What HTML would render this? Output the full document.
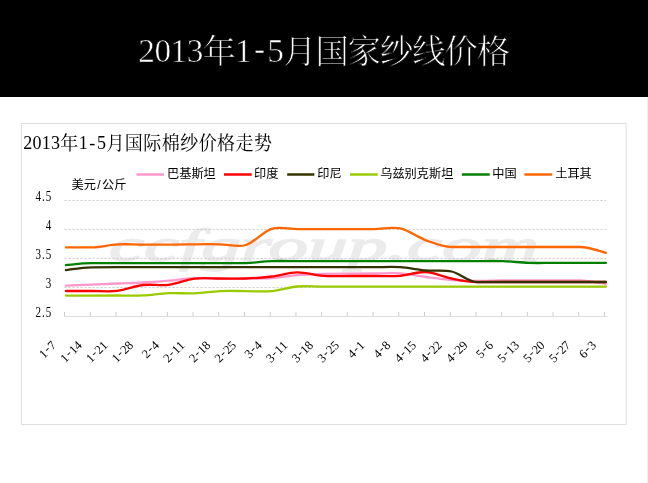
<!DOCTYPE html>
<html><head><meta charset="utf-8">
<style>
html,body{margin:0;padding:0;background:#fff;}
body{width:648px;height:483px;overflow:hidden;position:relative;}
svg{display:block;position:absolute;left:0;top:0;}
.ser{font-family:"Liberation Serif","Noto Serif CJK SC",serif;}
.sans{font-family:"Liberation Sans","Noto Sans CJK SC",sans-serif;}
</style></head><body>
<svg width="648" height="483" viewBox="0 0 648 483">
<rect x="0" y="0" width="648" height="97" fill="#000"/>
<line x1="647.5" y1="97" x2="647.5" y2="483" stroke="#efefef" stroke-width="1"/>
<text class="ser" x="138.34 154.46 170.59 186.71 202.57 235.09 253.99 267.34 283.20 315.45 347.70 379.95 412.20 444.45 476.70" y="62.40 62.40 62.40 62.40 63.30 62.40 59.90 62.40 63.30 63.30 63.30 63.30 63.30 63.30 63.30" fill="#fff" font-size="33.3" stroke="#000" stroke-width="0.6">2013年1-5月国家纱线价格</text>

<rect x="21.5" y="123.5" width="604.6" height="301" fill="#fff" stroke="#dedede" stroke-width="1"/>
<text class="ser" transform="translate(23.20 0) scale(0.92 1)" x="0.11 10.14 20.17 30.20 40.34 60.28 71.94 80.33 90.47 110.53 130.58 150.63 170.69 190.74 210.80 230.85 250.91" y="149.50 149.50 149.50 149.50 150.30 149.50 149.50 149.50 150.30 150.30 150.30 150.30 150.30 150.30 150.30 150.30 150.30" fill="#000" font-size="19.6">2013年1-5月国际棉纱价格走势</text>

<text class="sans" x="71.50 83.70 97.25 102.00 114.20" y="188.8" fill="#000" font-size="12.2">美元/公斤</text>
<g class="sans" font-size="12.2" fill="#000"><line x1="136.5" y1="174.5" x2="164" y2="174.5" stroke="#ff99cc" stroke-width="2.5"/><text x="167.00 179.20 191.40 203.60" y="178">巴基斯坦</text><line x1="224" y1="174.5" x2="251.7" y2="174.5" stroke="#ff0000" stroke-width="2.5"/><text x="254.00 266.20" y="178">印度</text><line x1="287.2" y1="174.5" x2="314.3" y2="174.5" stroke="#333300" stroke-width="2.5"/><text x="317.20 329.40" y="178">印尼</text><line x1="350" y1="174.5" x2="377.7" y2="174.5" stroke="#99cc00" stroke-width="2.5"/><text x="380.20 392.40 404.60 416.80 429.00 441.20" y="178">乌兹别克斯坦</text><line x1="461.9" y1="174.5" x2="489.7" y2="174.5" stroke="#008000" stroke-width="2.5"/><text x="492.20 504.40" y="178">中国</text><line x1="524.4" y1="174.5" x2="552.2" y2="174.5" stroke="#ff6600" stroke-width="2.5"/><text x="555.20 567.40 579.60" y="178">土耳其</text></g>
<text transform="translate(109 261) scale(1.72 1)" x="0" y="0" font-family="Liberation Serif" font-style="italic" font-size="46" fill="#ebebeb" stroke="#ebebeb" stroke-width="1.4">ccfgroup.com</text>
<g stroke="#cccccc" stroke-width="1" stroke-dasharray="2 2"><line x1="64.5" y1="200.5" x2="606" y2="200.5"/><line x1="64.5" y1="229.5" x2="606" y2="229.5"/><line x1="64.5" y1="258.5" x2="606" y2="258.5"/><line x1="64.5" y1="287.5" x2="606" y2="287.5"/></g>
<g stroke="#dddddd" stroke-width="1"><line x1="64" y1="316.5" x2="607.5" y2="316.5"/><line x1="64.50" y1="312" x2="64.50" y2="316" stroke="#cdcdcd"/><line x1="90.21" y1="312" x2="90.21" y2="316" stroke="#cdcdcd"/><line x1="115.93" y1="312" x2="115.93" y2="316" stroke="#cdcdcd"/><line x1="141.64" y1="312" x2="141.64" y2="316" stroke="#cdcdcd"/><line x1="167.36" y1="312" x2="167.36" y2="316" stroke="#cdcdcd"/><line x1="193.07" y1="312" x2="193.07" y2="316" stroke="#cdcdcd"/><line x1="218.78" y1="312" x2="218.78" y2="316" stroke="#cdcdcd"/><line x1="244.50" y1="312" x2="244.50" y2="316" stroke="#cdcdcd"/><line x1="270.21" y1="312" x2="270.21" y2="316" stroke="#cdcdcd"/><line x1="295.93" y1="312" x2="295.93" y2="316" stroke="#cdcdcd"/><line x1="321.64" y1="312" x2="321.64" y2="316" stroke="#cdcdcd"/><line x1="347.35" y1="312" x2="347.35" y2="316" stroke="#cdcdcd"/><line x1="373.07" y1="312" x2="373.07" y2="316" stroke="#cdcdcd"/><line x1="398.78" y1="312" x2="398.78" y2="316" stroke="#cdcdcd"/><line x1="424.50" y1="312" x2="424.50" y2="316" stroke="#cdcdcd"/><line x1="450.21" y1="312" x2="450.21" y2="316" stroke="#cdcdcd"/><line x1="475.92" y1="312" x2="475.92" y2="316" stroke="#cdcdcd"/><line x1="501.64" y1="312" x2="501.64" y2="316" stroke="#cdcdcd"/><line x1="527.35" y1="312" x2="527.35" y2="316" stroke="#cdcdcd"/><line x1="553.07" y1="312" x2="553.07" y2="316" stroke="#cdcdcd"/><line x1="578.78" y1="312" x2="578.78" y2="316" stroke="#cdcdcd"/><line x1="604.49" y1="312" x2="604.49" y2="316" stroke="#cdcdcd"/></g>
<g fill="none" stroke-width="2.3" stroke-linejoin="round" stroke-linecap="round"><path d="M65.9 285.6 C70.2 285.5 83.0 285.1 91.6 284.7 C100.2 284.3 108.8 283.9 117.3 283.5 C125.9 283.1 134.5 283.0 143.0 282.5 C151.6 282.0 160.2 281.3 168.8 280.6 C177.3 279.9 185.9 278.5 194.5 278.2 C203.0 277.9 211.6 278.5 220.2 278.6 C228.8 278.7 237.3 278.7 245.9 278.6 C254.5 278.5 263.0 278.8 271.6 278.2 C280.2 277.6 288.8 275.9 297.3 275.2 C305.9 274.5 314.5 274.3 323.0 274.0 C331.6 273.7 340.2 273.7 348.8 273.6 C357.3 273.5 365.9 273.6 374.5 273.5 C383.0 273.4 391.6 272.7 400.2 273.3 C408.8 273.9 417.3 275.9 425.9 277.0 C434.5 278.1 443.0 279.3 451.6 280.0 C460.2 280.7 468.8 280.9 477.3 281.0 C485.9 281.1 494.5 280.6 503.0 280.5 C511.6 280.4 520.2 280.5 528.8 280.5 C537.3 280.5 545.9 280.5 554.5 280.5 C563.0 280.5 571.6 280.5 580.2 280.5 C588.8 280.5 601.6 283.4 605.9 284.0" stroke="#ff99cc"/>
<path d="M65.9 291.0 C70.2 291.0 83.0 291.0 91.6 291.0 C100.2 291.0 108.8 291.9 117.3 290.9 C125.9 289.9 134.5 286.0 143.0 285.0 C151.6 284.0 160.2 285.9 168.8 284.8 C177.3 283.7 185.9 279.7 194.5 278.6 C203.0 277.6 211.6 278.5 220.2 278.5 C228.8 278.5 237.3 278.8 245.9 278.5 C254.5 278.2 263.0 277.5 271.6 276.5 C280.2 275.5 288.8 272.4 297.3 272.3 C305.9 272.2 314.5 275.2 323.0 275.8 C331.6 276.4 340.2 276.0 348.8 276.0 C357.3 276.0 365.9 276.0 374.5 276.0 C383.0 276.0 391.6 276.5 400.2 275.8 C408.8 275.1 417.3 271.6 425.9 272.0 C434.5 272.4 443.0 276.8 451.6 278.5 C460.2 280.2 468.8 282.0 477.3 282.0 C485.9 282.0 494.5 282.0 503.0 282.0 C511.6 282.0 520.2 282.0 528.8 282.0 C537.3 282.0 545.9 282.0 554.5 282.0 C563.0 282.0 571.6 282.0 580.2 282.0 C588.8 282.0 601.6 282.0 605.9 282.0" stroke="#ff0000"/>
<path d="M65.9 270.1 C70.2 269.6 83.0 267.3 91.6 267.3 C100.2 267.3 108.8 267.2 117.3 267.2 C125.9 267.2 134.5 267.2 143.0 267.2 C151.6 267.2 160.2 267.2 168.8 267.2 C177.3 267.2 185.9 267.2 194.5 267.2 C203.0 267.2 211.6 267.2 220.2 267.2 C228.8 267.2 237.3 267.2 245.9 267.2 C254.5 267.2 263.0 267.2 271.6 267.2 C280.2 267.2 288.8 267.2 297.3 267.2 C305.9 267.2 314.5 267.2 323.0 267.2 C331.6 267.2 340.2 267.2 348.8 267.2 C357.3 267.2 365.9 267.2 374.5 267.2 C383.0 267.2 391.6 266.6 400.2 267.2 C408.8 267.8 417.3 269.8 425.9 270.5 C434.5 271.2 443.0 269.6 451.6 271.5 C460.2 273.4 468.8 282.2 477.3 282.2 C485.9 282.2 494.5 282.0 503.0 282.0 C511.6 282.0 520.2 282.0 528.8 282.0 C537.3 282.0 545.9 282.0 554.5 282.0 C563.0 282.0 571.6 282.0 580.2 282.0 C588.8 282.0 601.6 282.0 605.9 282.0" stroke="#333300"/>
<path d="M65.9 295.6 C70.2 295.6 83.0 295.6 91.6 295.6 C100.2 295.6 108.8 295.5 117.3 295.5 C125.9 295.5 134.5 295.8 143.0 295.4 C151.6 295.0 160.2 293.5 168.8 293.2 C177.3 292.9 185.9 293.6 194.5 293.3 C203.0 293.0 211.6 291.5 220.2 291.1 C228.8 290.7 237.3 291.1 245.9 291.1 C254.5 291.1 263.0 291.9 271.6 291.1 C280.2 290.3 288.8 287.2 297.3 286.5 C305.9 285.8 314.5 286.7 323.0 286.7 C331.6 286.7 340.2 286.7 348.8 286.7 C357.3 286.7 365.9 286.7 374.5 286.7 C383.0 286.7 391.6 286.7 400.2 286.7 C408.8 286.7 417.3 286.7 425.9 286.7 C434.5 286.7 443.0 286.7 451.6 286.7 C460.2 286.7 468.8 286.7 477.3 286.7 C485.9 286.7 494.5 286.7 503.0 286.7 C511.6 286.7 520.2 286.7 528.8 286.7 C537.3 286.7 545.9 286.7 554.5 286.7 C563.0 286.7 571.6 286.7 580.2 286.7 C588.8 286.7 601.6 286.7 605.9 286.7" stroke="#99cc00"/>
<path d="M65.9 265.2 C70.2 264.9 83.0 263.2 91.6 263.2 C100.2 263.2 108.8 263.1 117.3 263.1 C125.9 263.1 134.5 263.1 143.0 263.1 C151.6 263.1 160.2 263.1 168.8 263.1 C177.3 263.1 185.9 263.1 194.5 263.1 C203.0 263.1 211.6 263.1 220.2 263.1 C228.8 263.1 237.3 263.4 245.9 263.1 C254.5 262.8 263.0 261.4 271.6 261.1 C280.2 260.8 288.8 261.1 297.3 261.1 C305.9 261.1 314.5 261.1 323.0 261.1 C331.6 261.1 340.2 261.1 348.8 261.1 C357.3 261.1 365.9 261.1 374.5 261.1 C383.0 261.1 391.6 261.1 400.2 261.1 C408.8 261.1 417.3 261.1 425.9 261.1 C434.5 261.1 443.0 261.1 451.6 261.1 C460.2 261.1 468.8 261.1 477.3 261.1 C485.9 261.1 494.5 260.8 503.0 261.1 C511.6 261.4 520.2 262.6 528.8 262.9 C537.3 263.2 545.9 262.9 554.5 262.9 C563.0 262.9 571.6 262.9 580.2 262.9 C588.8 262.9 601.6 262.9 605.9 262.9" stroke="#008000"/>
<path d="M65.9 247.3 C70.2 247.3 83.0 247.3 91.6 247.3 C100.2 247.3 108.8 244.9 117.3 244.4 C125.9 243.9 134.5 244.6 143.0 244.6 C151.6 244.6 160.2 244.6 168.8 244.6 C177.3 244.6 185.9 244.4 194.5 244.3 C203.0 244.2 211.6 244.2 220.2 244.3 C228.8 244.4 237.3 247.6 245.9 245.0 C254.5 242.4 263.0 231.5 271.6 228.8 C280.2 226.2 288.8 229.1 297.3 229.1 C305.9 229.1 314.5 229.1 323.0 229.1 C331.6 229.1 340.2 229.1 348.8 229.1 C357.3 229.1 365.9 229.2 374.5 229.1 C383.0 229.0 391.6 226.5 400.2 228.4 C408.8 230.3 417.3 237.2 425.9 240.3 C434.5 243.4 443.0 247.0 451.6 247.0 C460.2 247.0 468.8 247.0 477.3 247.0 C485.9 247.0 494.5 247.0 503.0 247.0 C511.6 247.0 520.2 247.0 528.8 247.0 C537.3 247.0 545.9 247.0 554.5 247.0 C563.0 247.0 571.6 247.0 580.2 247.0 C588.8 247.0 601.6 251.8 605.9 252.8" stroke="#ff6600"/>
</g>
<g class="ser" font-size="13" fill="#000"><text transform="translate(51.0 201.0) scale(0.85 1.05)" x="-18.25 -10.62 -6.25" y="0">4.5</text><text transform="translate(51.0 230.0) scale(0.85 1.05)" x="-6.25" y="0">4</text><text transform="translate(51.0 259.0) scale(0.85 1.05)" x="-18.25 -10.62 -6.25" y="0">3.5</text><text transform="translate(51.0 288.0) scale(0.85 1.05)" x="-6.25" y="0">3</text><text transform="translate(51.0 317.0) scale(0.85 1.05)" x="-18.25 -10.62 -6.25" y="0">2.5</text></g>
<g class="ser" font-size="13" fill="#000"><g transform="translate(56.9 346.0) rotate(-45)"><text class="ser" x="-18.40 -11.25 -6.20" y="0.00 -1.30 0.00" fill="#000" font-size="12.6">1-7</text></g>
<g transform="translate(82.6 346.0) rotate(-45)"><text class="ser" x="-24.50 -17.35 -12.30 -6.20" y="0.00 -1.30 0.00 0.00" fill="#000" font-size="12.6">1-14</text></g>
<g transform="translate(108.3 346.0) rotate(-45)"><text class="ser" x="-24.50 -17.35 -12.30 -6.20" y="0.00 -1.30 0.00 0.00" fill="#000" font-size="12.6">1-21</text></g>
<g transform="translate(134.0 346.0) rotate(-45)"><text class="ser" x="-24.50 -17.35 -12.30 -6.20" y="0.00 -1.30 0.00 0.00" fill="#000" font-size="12.6">1-28</text></g>
<g transform="translate(159.8 346.0) rotate(-45)"><text class="ser" x="-18.40 -11.25 -6.20" y="0.00 -1.30 0.00" fill="#000" font-size="12.6">2-4</text></g>
<g transform="translate(185.5 346.0) rotate(-45)"><text class="ser" x="-24.50 -17.35 -12.30 -6.20" y="0.00 -1.30 0.00 0.00" fill="#000" font-size="12.6">2-11</text></g>
<g transform="translate(211.2 346.0) rotate(-45)"><text class="ser" x="-24.50 -17.35 -12.30 -6.20" y="0.00 -1.30 0.00 0.00" fill="#000" font-size="12.6">2-18</text></g>
<g transform="translate(236.9 346.0) rotate(-45)"><text class="ser" x="-24.50 -17.35 -12.30 -6.20" y="0.00 -1.30 0.00 0.00" fill="#000" font-size="12.6">2-25</text></g>
<g transform="translate(262.6 346.0) rotate(-45)"><text class="ser" x="-18.40 -11.25 -6.20" y="0.00 -1.30 0.00" fill="#000" font-size="12.6">3-4</text></g>
<g transform="translate(288.3 346.0) rotate(-45)"><text class="ser" x="-24.50 -17.35 -12.30 -6.20" y="0.00 -1.30 0.00 0.00" fill="#000" font-size="12.6">3-11</text></g>
<g transform="translate(314.0 346.0) rotate(-45)"><text class="ser" x="-24.50 -17.35 -12.30 -6.20" y="0.00 -1.30 0.00 0.00" fill="#000" font-size="12.6">3-18</text></g>
<g transform="translate(339.8 346.0) rotate(-45)"><text class="ser" x="-24.50 -17.35 -12.30 -6.20" y="0.00 -1.30 0.00 0.00" fill="#000" font-size="12.6">3-25</text></g>
<g transform="translate(365.5 346.0) rotate(-45)"><text class="ser" x="-18.40 -11.25 -6.20" y="0.00 -1.30 0.00" fill="#000" font-size="12.6">4-1</text></g>
<g transform="translate(391.2 346.0) rotate(-45)"><text class="ser" x="-18.40 -11.25 -6.20" y="0.00 -1.30 0.00" fill="#000" font-size="12.6">4-8</text></g>
<g transform="translate(416.9 346.0) rotate(-45)"><text class="ser" x="-24.50 -17.35 -12.30 -6.20" y="0.00 -1.30 0.00 0.00" fill="#000" font-size="12.6">4-15</text></g>
<g transform="translate(442.6 346.0) rotate(-45)"><text class="ser" x="-24.50 -17.35 -12.30 -6.20" y="0.00 -1.30 0.00 0.00" fill="#000" font-size="12.6">4-22</text></g>
<g transform="translate(468.3 346.0) rotate(-45)"><text class="ser" x="-24.50 -17.35 -12.30 -6.20" y="0.00 -1.30 0.00 0.00" fill="#000" font-size="12.6">4-29</text></g>
<g transform="translate(494.0 346.0) rotate(-45)"><text class="ser" x="-18.40 -11.25 -6.20" y="0.00 -1.30 0.00" fill="#000" font-size="12.6">5-6</text></g>
<g transform="translate(519.8 346.0) rotate(-45)"><text class="ser" x="-24.50 -17.35 -12.30 -6.20" y="0.00 -1.30 0.00 0.00" fill="#000" font-size="12.6">5-13</text></g>
<g transform="translate(545.5 346.0) rotate(-45)"><text class="ser" x="-24.50 -17.35 -12.30 -6.20" y="0.00 -1.30 0.00 0.00" fill="#000" font-size="12.6">5-20</text></g>
<g transform="translate(571.2 346.0) rotate(-45)"><text class="ser" x="-24.50 -17.35 -12.30 -6.20" y="0.00 -1.30 0.00 0.00" fill="#000" font-size="12.6">5-27</text></g>
<g transform="translate(596.9 346.0) rotate(-45)"><text class="ser" x="-18.40 -11.25 -6.20" y="0.00 -1.30 0.00" fill="#000" font-size="12.6">6-3</text></g>
</g>
</svg>
</body></html>
